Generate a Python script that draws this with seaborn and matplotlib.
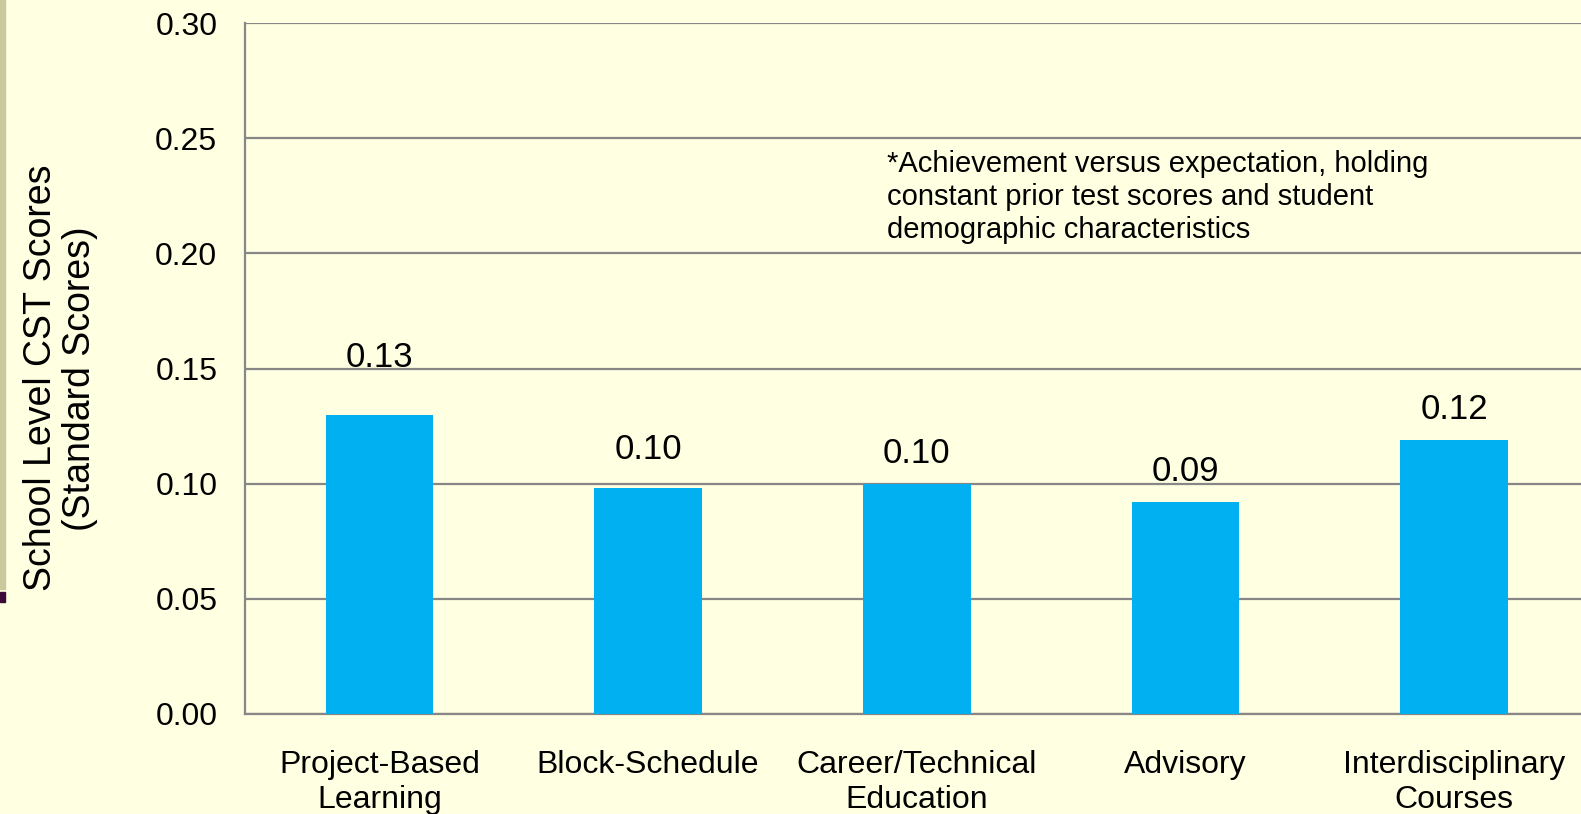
import matplotlib
matplotlib.use("Agg")
import matplotlib.pyplot as plt
import seaborn as sns
import pandas as pd
from matplotlib.patches import Rectangle

categories = ["Project-Based\nLearning", "Block-Schedule", "Career/Technical\nEducation",
              "Advisory", "Interdisciplinary\nCourses"]
values = [0.130, 0.098, 0.100, 0.092, 0.119]
value_labels = ["0.13", "0.10", "0.10", "0.09", "0.12"]
label_offsets_pt = [41, 28, 22, 22, 22]
yticks = [0.00, 0.05, 0.10, 0.15, 0.20, 0.25, 0.30]
note = ("*Achievement versus expectation, holding\n"
        "constant prior test scores and student\n"
        "demographic characteristics")
ylabel = "School Level CST Scores\n(Standard Scores)"

BG = "#FFFFE1"
BAR = "#00B0F0"
GRID = "#878787"

sns.set_style("white")
plt.rcParams["font.family"] = ["Liberation Sans", "DejaVu Sans"]
plt.rcParams["text.color"] = "black"

fig = plt.figure(figsize=(15.81, 8.14), dpi=100, facecolor=BG)
ax = fig.add_axes([0.155, 0.1229, 0.8498, 0.8486])
ax.set_facecolor(BG)

df = pd.DataFrame({"cat": categories, "val": values})
sns.barplot(data=df, x="cat", y="val", color=BAR, width=0.4, saturation=1,
            linewidth=0, ax=ax, zorder=3)

ax.set_xlim(-0.5, len(categories) - 0.5)
ax.set_ylim(0, 0.30)
ax.set_yticks(yticks)
ax.set_yticklabels([f"{t:.2f}" for t in yticks])
ax.yaxis.grid(True, color=GRID, linewidth=1.6, zorder=0)
ax.set_axisbelow(True)

for s in ["top", "right"]:
    ax.spines[s].set_visible(False)
for s in ["left", "bottom"]:
    ax.spines[s].set_color(GRID)
    ax.spines[s].set_linewidth(1.6)

ax.tick_params(axis="y", direction="out", length=6, width=1.6, color=GRID,
               labelsize=23, pad=14, labelcolor="black")
ax.set_xticks([i - 0.5 for i in range(len(categories) + 1)], minor=True)
ax.tick_params(axis="x", which="minor", direction="out", length=6, width=1.6, color=GRID)
ax.tick_params(axis="x", which="major", length=0, labelsize=23, pad=26, labelcolor="black")
for lbl in ax.get_xticklabels():
    lbl.set_linespacing(1.2)

ax.set_xlabel("")
ax.set_ylabel(ylabel, fontsize=27, linespacing=1.1, color="black")
ax.yaxis.set_label_coords(-0.1094, 0.486)

for i, (v, t, off) in enumerate(zip(values, value_labels, label_offsets_pt)):
    ax.annotate(t, (i, v), xytext=(0, off), textcoords="offset points",
                ha="center", va="center", fontsize=25, color="black", zorder=5)

ax.text(0.478, 0.817, note, transform=ax.transAxes, ha="left", va="top",
        fontsize=21, linespacing=1.23, color="black")

# slide decoration on the left edge
fig.add_artist(Rectangle((0, 1 - 589 / 814), 5 / 1581, 589 / 814,
                         transform=fig.transFigure, color="#CBC99B", zorder=10))
fig.add_artist(Rectangle((0, 1 - 602 / 814), 5 / 1581, 10 / 814,
                         transform=fig.transFigure, color="#3B0A3A", zorder=10))

fig.savefig("out.png", dpi=100, facecolor=BG)
